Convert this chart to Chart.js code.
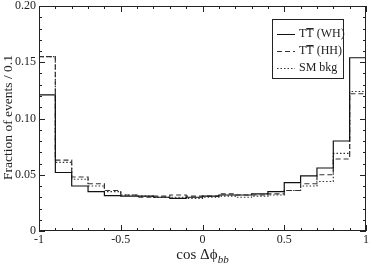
<!DOCTYPE html>
<html>
<head>
<meta charset="utf-8">
<script src="https://cdn.jsdelivr.net/npm/chart.js@4/dist/chart.umd.min.js"></script>
<style>
  body { margin: 0; background: #fff; }
  #wrap { width: 371px; height: 267px; }
</style>
</head>
<body>
<div id="wrap"><canvas id="chart" width="371" height="267"></canvas></div>
<script>
// bin edges of cos(dphi_bb), 20 bins of 0.1
var binEdges = [-1, -0.9, -0.8, -0.7, -0.6, -0.5, -0.4, -0.3, -0.2, -0.1, 0,
  0.1, 0.2, 0.3, 0.4, 0.5, 0.6, 0.7, 0.8, 0.9, 1];

var whValues = [0.121, 0.052, 0.040, 0.035, 0.0315, 0.031, 0.031, 0.030, 0.029, 0.030,
  0.031, 0.032, 0.032, 0.033, 0.035, 0.043, 0.049, 0.056, 0.080, 0.154];
var hhValues = [0.155, 0.063, 0.048, 0.042, 0.036, 0.032, 0.030, 0.031, 0.032, 0.031,
  0.031, 0.033, 0.032, 0.032, 0.033, 0.036, 0.042, 0.050, 0.064, 0.122];
var smValues = [0.155, 0.061, 0.046, 0.040, 0.035, 0.032, 0.031, 0.030, 0.030, 0.029,
  0.030, 0.031, 0.030, 0.031, 0.032, 0.036, 0.040, 0.044, 0.069, 0.124];

var seriesNames = ['(WH)', '(HH)', 'SM bkg'];
var xTickLabels = ['-1', '-0.5', '0', '0.5', '1'];
var xTickValues = [-1, -0.5, 0, 0.5, 1];
var yTickLabels = ['0', '0.05', '0.10', '0.15', '0.20'];
var yTickValues = [0, 0.05, 0.10, 0.15, 0.20];

var serif = '"Liberation Serif", "DejaVu Serif", serif';

// histogram as steps: value i from edge i to edge i+1
function toSteps(vals) {
  var pts = [{ x: binEdges[0], y: vals[0] }];
  for (var i = 0; i < vals.length; i++) {
    pts.push({ x: binEdges[i + 1], y: vals[i] });
    if (i + 1 < vals.length) pts.push({ x: binEdges[i + 1], y: vals[i + 1] });
  }
  return pts;
}

// frame, inward ticks, labels, titles and legend
var framePlugin = {
  id: 'frame',
  afterDraw: function(chart) {
    var ctx = chart.ctx;
    var a = chart.chartArea;
    var xs = chart.scales.x;
    var ys = chart.scales.y;
    ctx.save();
    ctx.strokeStyle = '#222';
    ctx.lineWidth = 1;
    ctx.setLineDash([]);
    ctx.strokeRect(a.left + 0.5, a.top + 0.5, a.right - a.left - 1, a.bottom - a.top - 1);

    ctx.beginPath();
    var i, v, p, len;
    for (i = 0; i <= 20; i++) {
      v = -1 + i * 0.1;
      p = Math.round(xs.getPixelForValue(v)) + 0.5;
      len = (i % 5 === 0) ? 6 : 3;
      ctx.moveTo(p, a.bottom); ctx.lineTo(p, a.bottom - len);
      ctx.moveTo(p, a.top); ctx.lineTo(p, a.top + len);
    }
    for (i = 0; i <= 20; i++) {
      v = i * 0.01;
      p = Math.round(ys.getPixelForValue(v)) + 0.5;
      len = (i % 5 === 0) ? 6 : 3;
      ctx.moveTo(a.left, p); ctx.lineTo(a.left + len, p);
      ctx.moveTo(a.right, p); ctx.lineTo(a.right - len, p);
    }
    ctx.stroke();

    ctx.fillStyle = '#222';
    ctx.font = '12px ' + serif;
    ctx.textAlign = 'center';
    ctx.textBaseline = 'top';
    for (i = 0; i < xTickValues.length; i++) {
      ctx.fillText(xTickLabels[i], xs.getPixelForValue(xTickValues[i]), a.bottom + 3);
    }
    ctx.textAlign = 'right';
    ctx.textBaseline = 'middle';
    for (i = 0; i < yTickValues.length; i++) {
      ctx.fillText(yTickLabels[i], a.left - 3, ys.getPixelForValue(yTickValues[i]));
    }

    // y title
    ctx.save();
    ctx.translate(8, (a.top + a.bottom) / 2 - 1);
    ctx.rotate(-Math.PI / 2);
    ctx.textAlign = 'center';
    ctx.font = '13.5px ' + serif;
    ctx.fillText('Fraction of events / 0.1', 0, 0);
    ctx.restore();

    // x title: cos Δϕ_bb
    ctx.font = '15px ' + serif;
    ctx.textAlign = 'left';
    ctx.textBaseline = 'alphabetic';
    var main = 'cos \u0394\u03d5';
    var wMain = ctx.measureText(main).width;
    ctx.font = 'italic 11px ' + serif;
    var wSub = ctx.measureText('bb').width;
    var x0 = (a.left + a.right) / 2 - (wMain + wSub) / 2;
    ctx.font = '15px ' + serif;
    ctx.fillText(main, x0, 259);
    ctx.font = 'italic 11px ' + serif;
    ctx.fillText('bb', x0 + wMain, 263);

    // legend
    var lx = 272, ly = 19, lw = 71, lh = 59;
    ctx.fillStyle = '#fff';
    ctx.fillRect(lx, ly, lw, lh);
    ctx.strokeStyle = '#222';
    ctx.strokeRect(lx + 0.5, ly + 0.5, lw, lh);
    ctx.font = '12px ' + serif;
    ctx.textBaseline = 'middle';
    chart.data.datasets.forEach(function(ds, k) {
      var yy = ly + 15 + k * 17;
      ctx.strokeStyle = ds.borderColor;
      ctx.lineWidth = 1;
      ctx.setLineDash(ds.borderDash || []);
      ctx.beginPath();
      ctx.moveTo(lx + 5, Math.round(yy) + 0.5);
      ctx.lineTo(lx + 23, Math.round(yy) + 0.5);
      ctx.stroke();
      ctx.setLineDash([]);
      ctx.fillStyle = '#222';
      var tx = lx + 27;
      if (k < 2) {
        var wT = ctx.measureText('T').width;
        ctx.fillText('TT', tx, yy);
        ctx.beginPath();
        ctx.strokeStyle = '#222';
        ctx.moveTo(tx + wT, Math.round(yy - 6) + 0.5);
        ctx.lineTo(tx + 2 * wT, Math.round(yy - 6) + 0.5);
        ctx.stroke();
        ctx.fillText(' ' + ds.label, tx + 2 * wT, yy);
      } else {
        ctx.fillText(ds.label, tx, yy);
      }
    });
    ctx.restore();
  }
};

var ctx = document.getElementById('chart').getContext('2d');
var chart = new Chart(ctx, {
  type: 'line',
  data: {
    datasets: [{
      label: seriesNames[0],
      data: toSteps(whValues),
      borderColor: '#111',
      borderWidth: 1.2,
      pointRadius: 0,
      fill: false
    }, {
      label: seriesNames[1],
      data: toSteps(hhValues),
      borderColor: '#333',
      borderWidth: 1.2,
      borderDash: [5, 3],
      pointRadius: 0,
      fill: false
    }, {
      label: seriesNames[2],
      data: toSteps(smValues),
      borderColor: '#333',
      borderWidth: 1.2,
      borderDash: [1.5, 2],
      pointRadius: 0,
      fill: false
    }]
  },
  options: {
    responsive: false,
    animation: false,
    layout: { padding: { left: 39, right: 5, top: 6, bottom: 36 } },
    plugins: { legend: { display: false }, tooltip: { enabled: false } },
    scales: {
      x: { type: 'linear', min: -1, max: 1, display: false },
      y: { min: 0, max: 0.2, display: false }
    }
  },
  plugins: [framePlugin]
});
</script>
</body>
</html>
